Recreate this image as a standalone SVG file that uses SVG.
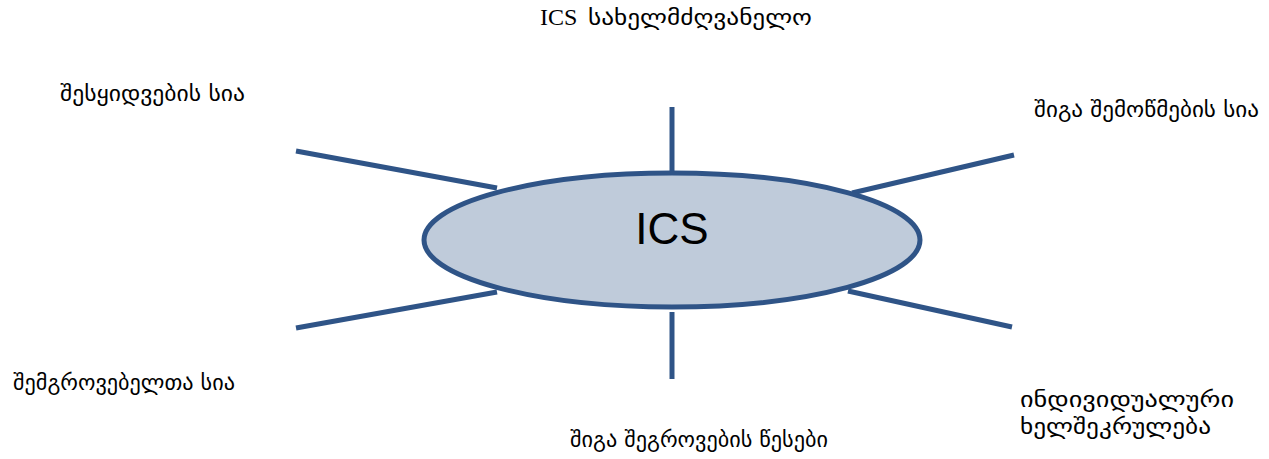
<svg xmlns="http://www.w3.org/2000/svg" width="1269" height="459" viewBox="0 0 1269 459">
<style>
.bg{fill:#ffffff}
.conn line{stroke:#2F5487;stroke-width:5;fill:none}
.hub{fill:#BFCBDA;stroke:#2F5487;stroke-width:5}
.hubtxt{font-family:"Liberation Sans",Arial,sans-serif;font-size:44px;fill:#000}
.lbl{font-family:"DejaVu Sans","Liberation Sans",sans-serif;font-size:21px;fill:#000}
.title{font-family:"Liberation Serif","DejaVu Serif",serif;font-size:24px;fill:#000}
.geo{font-family:"DejaVu Sans","Liberation Sans",sans-serif;font-size:21px}
</style>
<rect class="bg" x="0" y="0" width="1269" height="459"/>
<g id="connectors" class="conn">
<line x1="672" y1="107" x2="672" y2="178"/>
<line x1="672" y1="312" x2="672" y2="379"/>
<line x1="296" y1="151" x2="497" y2="188"/>
<line x1="296" y1="328" x2="497" y2="292"/>
<line x1="852" y1="193" x2="1014" y2="155"/>
<line x1="848" y1="291" x2="1012" y2="327"/>
</g>
<g id="node-ics">
<ellipse class="hub" cx="672" cy="240" rx="248" ry="67"/>
<text class="hubtxt" x="672" y="244" text-anchor="middle">ICS</text>
</g>
<g id="node-manual">
<text class="title" x="540" y="25">ICS <tspan class="geo" x="588" textLength="224" lengthAdjust="spacingAndGlyphs">სახელმძღვანელო</tspan></text>
</g>
<g id="node-purchase">
<text class="lbl" x="60" y="101" textLength="185" lengthAdjust="spacingAndGlyphs">შესყიდვების სია</text>
</g>
<g id="node-audit">
<text class="lbl" x="1034" y="117" textLength="225" lengthAdjust="spacingAndGlyphs">შიგა შემოწმების სია</text>
</g>
<g id="node-collectors">
<text class="lbl" x="13" y="390" textLength="222" lengthAdjust="spacingAndGlyphs">შემგროვებელთა სია</text>
</g>
<g id="node-contract">
<text class="lbl" x="1020" y="407" textLength="214" lengthAdjust="spacingAndGlyphs">ინდივიდუალური</text>
<text class="lbl" x="1020" y="434" textLength="191" lengthAdjust="spacingAndGlyphs">ხელშეკრულება</text>
</g>
<g id="node-rules">
<text class="lbl" x="570" y="447" textLength="258" lengthAdjust="spacingAndGlyphs">შიგა შეგროვების წესები</text>
</g>
</svg>
